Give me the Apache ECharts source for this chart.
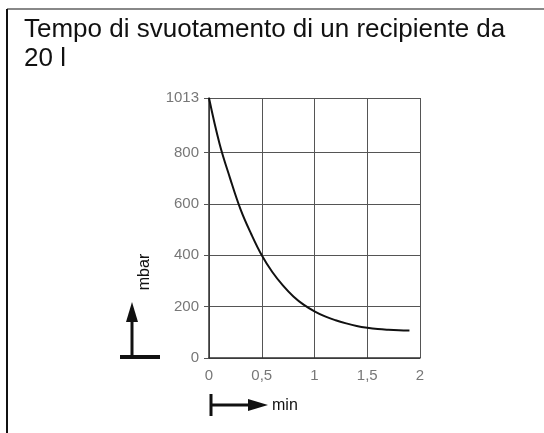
<!DOCTYPE html>
<html>
<head>
<meta charset="utf-8">
<script src="https://cdn.jsdelivr.net/npm/echarts@6/dist/echarts.min.js"></script>
<style>
  html, body { margin: 0; padding: 0; background: #fff; }
  #chart { width: 544px; height: 433px; }
</style>
</head>
<body>
<div id="chart"></div>
<script>
// time in minutes, pressure in mbar
const timeMin = [0, 0.1, 0.2, 0.3, 0.4, 0.5, 0.6, 0.7, 0.8, 0.9, 1.0, 1.1, 1.2, 1.3, 1.4, 1.5, 1.6, 1.7, 1.8, 1.9]
const pressure = [1013, 835, 700, 578, 483, 400, 335, 283, 240, 207, 182, 162, 147, 135, 125, 118, 113, 110, 108, 107]
const yTicks = [0, 200, 400, 600, 800, 1013]

const titleText = 'Tempo di svuotamento di un recipiente da\n20 l'
const yName = 'mbar'
const xName = 'min'

const myChart = echarts.init(document.getElementById('chart'))

const option = {
  animation: false,
  title: {
    text: titleText,
    left: 19,
    top: 10,
    textStyle: {
      fontFamily: 'Liberation Sans',
      fontSize: 26,
      fontWeight: 'normal',
      color: '#111',
      lineHeight: 29
    }
  },
  grid: { left: 209, right: 124, top: 98, bottom: 75 },
  xAxis: {
    type: 'value',
    min: 0,
    max: 2,
    interval: 0.5,
    axisLine: { lineStyle: { color: '#333', width: 1.5 } },
    axisTick: { show: false },
    axisLabel: {
      color: '#777',
      fontFamily: 'Liberation Sans',
      fontSize: 15,
      margin: 10,
      formatter: v => String(v).replace('.', ',')
    },
    splitLine: { show: true, lineStyle: { color: '#555', width: 1 } }
  },
  yAxis: {
    type: 'value',
    min: 0,
    max: 1013,
    axisLine: { show: true, lineStyle: { color: '#333', width: 1.5 } },
    axisTick: { show: true, length: 5, customValues: yTicks, lineStyle: { color: '#555' } },
    axisLabel: {
      customValues: yTicks,
      color: '#777',
      fontFamily: 'Liberation Sans',
      fontSize: 15,
      margin: 10,
      formatter: v => String(v)
    },
    splitLine: { show: true, lineStyle: { color: '#555', width: 1 } }
  },
  series: [{
    type: 'line',
    data: timeMin.map((t, i) => [t, pressure[i]]),
    smooth: 0.4,
    showSymbol: false,
    lineStyle: { color: '#111', width: 2 }
  }],
  graphic: [
    // frame
    { type: 'line', shape: { x1: 7, y1: 9, x2: 544, y2: 9 }, style: { stroke: '#888', lineWidth: 2 } },
    { type: 'line', shape: { x1: 7, y1: 9, x2: 7, y2: 433 }, style: { stroke: '#111', lineWidth: 2 } },
    // y arrow
    { type: 'line', shape: { x1: 120, y1: 357, x2: 160, y2: 357 }, style: { stroke: '#111', lineWidth: 4 } },
    { type: 'line', shape: { x1: 132, y1: 357, x2: 132, y2: 318 }, style: { stroke: '#111', lineWidth: 3 } },
    { type: 'polygon', shape: { points: [[132, 302], [126, 322], [138, 322]] }, style: { fill: '#111' } },
    {
      type: 'text', x: 145, y: 272, rotation: Math.PI / 2,
      style: { text: yName, fontFamily: 'Liberation Sans', fontSize: 16, fill: '#111', align: 'center', verticalAlign: 'middle' }
    },
    // x arrow
    { type: 'line', shape: { x1: 211, y1: 394, x2: 211, y2: 416 }, style: { stroke: '#111', lineWidth: 3 } },
    { type: 'line', shape: { x1: 211, y1: 405, x2: 252, y2: 405 }, style: { stroke: '#111', lineWidth: 3 } },
    { type: 'polygon', shape: { points: [[268, 405], [248, 399], [248, 411]] }, style: { fill: '#111' } },
    {
      type: 'text', x: 272, y: 406,
      style: { text: xName, fontFamily: 'Liberation Sans', fontSize: 16, fill: '#111', align: 'left', verticalAlign: 'middle' }
    }
  ]
}

myChart.setOption(option)
</script>
</body>
</html>
